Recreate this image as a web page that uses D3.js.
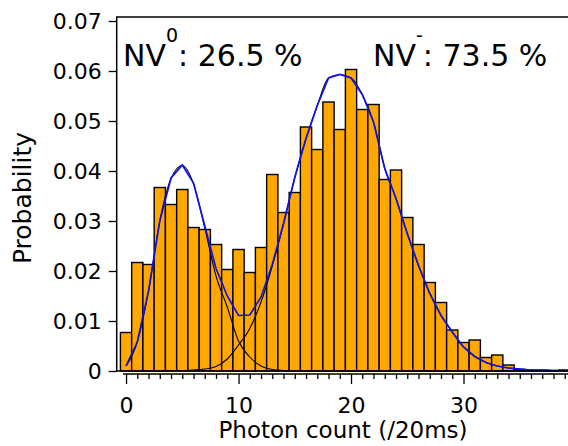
<!DOCTYPE html>
<html>
<head>
<meta charset="utf-8">
<script src="https://cdn.jsdelivr.net/npm/d3@7"></script>
<style>
  body { margin: 0; background: #fff; }
  text { font-family: "DejaVu Sans", sans-serif; }
</style>
</head>
<body>
<div id="chart"></div>
<script>
// photon count bins 0..39
const counts = d3.range(0, 40);

// histogram (probability per bin)
const probs = [0.0077, 0.0217, 0.0213, 0.0367, 0.0333, 0.0363, 0.0287, 0.0283, 0.0253, 0.0203,
               0.0243, 0.0197, 0.0247, 0.0393, 0.0317, 0.0357, 0.0488, 0.0443, 0.0538, 0.0483,
               0.0603, 0.0523, 0.0533, 0.0383, 0.0402, 0.0307, 0.0253, 0.0177, 0.0137, 0.0082,
               0.0057, 0.0062, 0.0027, 0.0032, 0.0012, 0.0003, 0.0001, 0.0001, 0.0001, 0.0002];

// total fit (blue)
const fitTotal = [0.0010, 0.0058, 0.0160, 0.0300, 0.0386, 0.0412, 0.0376, 0.0290, 0.0205, 0.0150,
                  0.0111, 0.0112, 0.0148, 0.0213, 0.0295, 0.0387, 0.0465, 0.0531, 0.0586, 0.0593,
                  0.0586, 0.0553, 0.0498, 0.0405, 0.0345, 0.0275, 0.0211, 0.0155, 0.0111, 0.0078,
                  0.0048, 0.0029, 0.0017, 0.0010, 0.0006, 0.0004, 0.0002, 0.0002, 0.0001, 0.0001];

// NV0 component (black)
const fitNV0 = [0.0010, 0.0058, 0.0160, 0.0300, 0.0385, 0.0411, 0.0374, 0.0286, 0.0190, 0.0128,
                0.0060, 0.0028, 0.0010, 0.0003, 0.0001, 0, 0, 0, 0, 0,
                0, 0, 0, 0, 0, 0, 0, 0, 0, 0,
                0, 0, 0, 0, 0, 0, 0, 0, 0, 0];

// NV- component (black)
const fitNVm = [0, 0, 0, 0, 0.0001, 0.0001, 0.0002, 0.0004, 0.0009, 0.0024,
                0.0052, 0.0085, 0.0138, 0.0210, 0.0294, 0.0387, 0.0465, 0.0531, 0.0586, 0.0593,
                0.0586, 0.0553, 0.0498, 0.0405, 0.0345, 0.0275, 0.0211, 0.0155, 0.0111, 0.0078,
                0.0048, 0.0029, 0.0017, 0.0010, 0.0006, 0.0004, 0.0002, 0.0002, 0.0001, 0.0001];

const yTicks = [0, 0.01, 0.02, 0.03, 0.04, 0.05, 0.06, 0.07];
const xLabelTicks = [0, 10, 20, 30];

const W = 568, H = 446;
const frame = { left: 116.7, top: 17, bottom: 371 };

const svg = d3.select("#chart").append("svg")
  .attr("width", W).attr("height", H)
  .attr("viewBox", `0 0 ${W} ${H}`);

const x = d3.scaleLinear().domain([-0.83, 39.6]).range([frame.left, 571.5]);
const y = d3.scaleLinear().domain([0, 0.07]).range([frame.bottom, 21]);

// bars
svg.append("g")
  .selectAll("rect")
  .data(counts)
  .join("rect")
  .attr("x", d => x(d - 0.5))
  .attr("width", d => x(d + 0.5) - x(d - 0.5))
  .attr("y", d => y(probs[d]))
  .attr("height", d => y(0) - y(probs[d]))
  .attr("fill", "#ffa800")
  .attr("stroke", "#000")
  .attr("stroke-width", 1.4);

// fit components
const smooth = d3.line()
  .x((d, i) => x(counts[i]))
  .y(d => y(d))
  .curve(d3.curveMonotoneX);

[fitNV0, fitNVm].forEach(arr => {
  svg.append("path")
    .datum(arr)
    .attr("d", smooth)
    .attr("fill", "none")
    .attr("stroke", "#000")
    .attr("stroke-width", 1.1);
});

// total fit
svg.append("path")
  .datum(fitTotal)
  .attr("d", d3.line().x((d, i) => x(counts[i])).y(d => y(d)))
  .attr("fill", "none")
  .attr("stroke", "#1010f0")
  .attr("stroke-width", 1.7);

// frame
svg.append("path")
  .attr("d", `M${W + 2},${frame.top}H${frame.left}V${frame.bottom}H${W + 2}`)
  .attr("fill", "none")
  .attr("stroke", "#000")
  .attr("stroke-width", 1.5);

// y axis
const yAxis = svg.append("g")
  .attr("transform", `translate(${frame.left},0)`)
  .call(d3.axisLeft(y)
    .tickValues(yTicks)
    .tickSize(8)
    .tickPadding(7)
    .tickFormat(d => d === 0 ? "0" : d3.format(".2f")(d)));
yAxis.select(".domain").remove();
yAxis.selectAll(".tick line").attr("stroke-width", 1.3);
yAxis.selectAll("text")
  .attr("font-size", 22)
  .attr("font-family", "DejaVu Sans")
  .attr("fill", "#000");

// x axis (offset below the frame)
const axisY = 374;
const xAxis = svg.append("g")
  .attr("transform", `translate(0,${axisY})`)
  .call(d3.axisBottom(x)
    .tickValues(counts)
    .tickSize(5)
    .tickFormat(d => xLabelTicks.includes(d) ? d : ""));
xAxis.select(".domain").remove();
xAxis.append("line")
  .attr("x1", x(-0.27)).attr("x2", W + 2)
  .attr("stroke", "#000").attr("stroke-width", 1.3);
xAxis.selectAll(".tick line")
  .attr("stroke-width", 1.3)
  .attr("y2", d => d % 10 === 0 ? 10 : 5);
xAxis.selectAll("text")
  .attr("y", 39)
  .attr("dy", 0)
  .attr("font-size", 22)
  .attr("font-family", "DejaVu Sans")
  .attr("fill", "#000");

// axis titles
svg.append("text")
  .attr("x", 343).attr("y", 438)
  .attr("text-anchor", "middle")
  .attr("font-size", 23)
  .text("Photon count (/20ms)");

svg.append("text")
  .attr("transform", "translate(31,198) rotate(-90)")
  .attr("text-anchor", "middle")
  .attr("font-size", 25)
  .text("Probability");

// annotations
function label(px, sup, rest) {
  const t = svg.append("text")
    .attr("x", px).attr("y", 65.7)
    .attr("font-size", 30);
  t.append("tspan").text("NV");
  t.append("tspan").attr("font-size", 19).attr("dy", -24).text(sup);
  t.append("tspan").attr("dy", 24).text(rest);
}
label(123, "0", ": 26.5 %");
label(373, "-", ": 73.5 %");
</script>
</body>
</html>
